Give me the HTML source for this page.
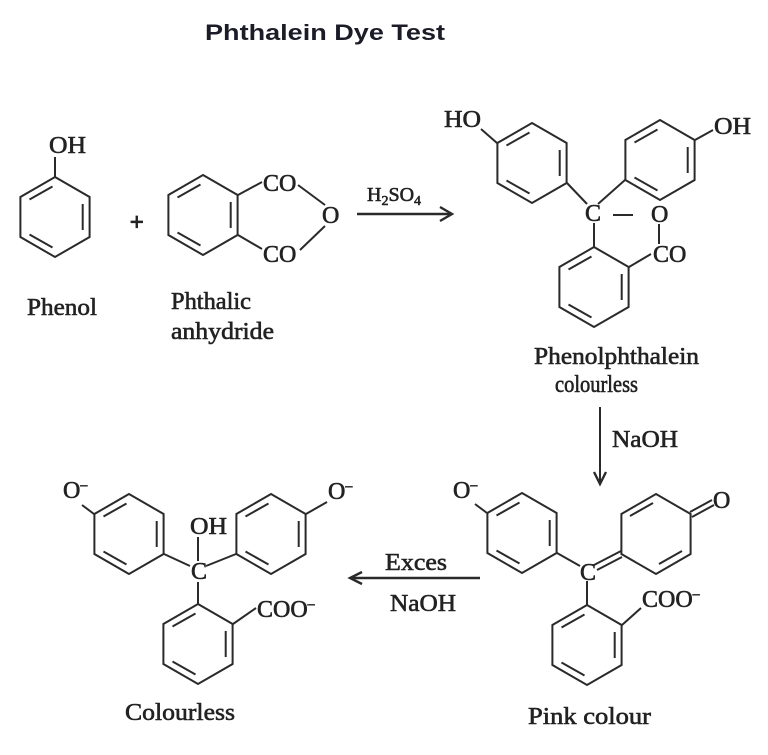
<!DOCTYPE html>
<html><head><meta charset="utf-8"><style>
html,body{margin:0;padding:0;background:#fff;}
svg{display:block;}
.t{font-family:"Liberation Serif",serif;font-size:24px;fill:#222;stroke:#222;stroke-width:0.6;}
.s{font-size:14px;}
</style></head><body>
<svg width="768" height="755" viewBox="0 0 768 755" xmlns="http://www.w3.org/2000/svg">
<defs>
<g id="ring" fill="none" stroke="#2a2a2a" stroke-width="2">
<polygon points="0,-40 34.6,-20 34.6,20 0,40 -34.6,20 -34.6,-20"/>
<line x1="-25.5" y1="-17.5" x2="-2.5" y2="-30.5"/>
<line x1="27.7" y1="-13" x2="27.7" y2="13"/>
<line x1="-2.5" y1="30.5" x2="-25.5" y2="17.5"/>
</g>
</defs>
<text x="205" y="40" font-family="Liberation Sans, sans-serif" font-weight="bold" font-size="22" fill="#1c1c28" textLength="240" lengthAdjust="spacingAndGlyphs">Phthalein Dye Test</text>

<g stroke="#2a2a2a" stroke-width="2" fill="none">
<use href="#ring" x="55" y="217"/>
<use href="#ring" x="203" y="215"/>
<use href="#ring" x="532" y="163"/>
<use href="#ring" x="660" y="160"/>
<use href="#ring" x="594" y="287"/>
<use href="#ring" x="522" y="533"/>
<use href="#ring" x="587" y="645"/>
<use href="#ring" x="129" y="534"/>
<use href="#ring" x="271" y="534"/>
<use href="#ring" x="198" y="644"/>
<polygon points="656,494 690.6,514 690.6,554 656,574 621.4,554 621.4,514"/>
<line x1="630" y1="516" x2="653" y2="503"/>
<line x1="682" y1="551" x2="659" y2="564"/>

<line x1="55" y1="177" x2="55" y2="157"/>
<line x1="238" y1="195" x2="262" y2="182"/>
<line x1="238" y1="235" x2="262" y2="249"/>
<line x1="298" y1="185" x2="325" y2="205"/>
<line x1="325" y1="226" x2="300" y2="250"/>
<line x1="357" y1="214" x2="451" y2="214" stroke-width="2.6"/>
<polyline points="440,207 452,214 440,221" stroke-width="2.4"/>
<line x1="497" y1="143" x2="481" y2="129"/>
<line x1="695" y1="140" x2="713" y2="130"/>
<line x1="567" y1="183" x2="587" y2="204"/>
<line x1="625" y1="180" x2="598" y2="204"/>
<line x1="613" y1="215" x2="633" y2="215"/>
<line x1="659" y1="224" x2="659" y2="244"/>
<line x1="629" y1="267" x2="651" y2="254"/>
<line x1="594" y1="223" x2="594" y2="247"/>
<line x1="600" y1="407" x2="600" y2="483"/>
<polyline points="594,472 600,484 606,472" stroke-width="2.4"/>
<line x1="487" y1="513" x2="475" y2="504"/>
<line x1="557" y1="553" x2="580" y2="566"/>
<line x1="594" y1="565" x2="621" y2="551"/>
<line x1="597" y1="570" x2="622" y2="557"/>
<line x1="587" y1="581" x2="587" y2="605"/>
<line x1="622" y1="625" x2="641" y2="608"/>
<line x1="690" y1="512" x2="712" y2="500"/>
<line x1="692" y1="517" x2="714" y2="505"/>
<line x1="350" y1="578" x2="480" y2="578" stroke-width="2.4"/>
<polyline points="362,572 350,578 362,584" stroke-width="2.4"/>
<line x1="94" y1="514" x2="82" y2="505"/>
<line x1="306" y1="514" x2="327" y2="502"/>
<line x1="164" y1="554" x2="190" y2="566"/>
<line x1="236" y1="554" x2="206" y2="566"/>
<line x1="198" y1="537" x2="198" y2="561"/>
<line x1="198" y1="582" x2="198" y2="604"/>
<line x1="233" y1="624" x2="256" y2="608"/>
</g>

<g class="t">
<text x="49" y="153" textLength="37" lengthAdjust="spacingAndGlyphs">OH</text>
<text x="130" y="230" font-size="24" stroke-width="1.2">+</text>
<text x="263" y="191">CO</text>
<text x="263" y="262">CO</text>
<text x="322" y="223">O</text>
<text x="367" y="201" font-size="20">H<tspan class="s" dy="4">2</tspan><tspan dy="-4">SO</tspan><tspan class="s" dy="4">4</tspan></text>
<text x="27" y="315" textLength="70" lengthAdjust="spacingAndGlyphs">Phenol</text>
<text x="171" y="309" textLength="80" lengthAdjust="spacingAndGlyphs">Phthalic</text>
<text x="171" y="339" textLength="103" lengthAdjust="spacingAndGlyphs">anhydride</text>

<text x="444" y="127" textLength="37" lengthAdjust="spacingAndGlyphs">HO</text>
<text x="714" y="134" textLength="37" lengthAdjust="spacingAndGlyphs">OH</text>
<text x="585" y="221">C</text>
<text x="651" y="222">O</text>
<text x="653" y="262">CO</text>
<text x="534" y="364" textLength="165" lengthAdjust="spacingAndGlyphs">Phenolphthalein</text>
<text x="555" y="392" textLength="83" lengthAdjust="spacingAndGlyphs">colourless</text>
<text x="612" y="447" textLength="66" lengthAdjust="spacingAndGlyphs">NaOH</text>

<text x="453" y="498">O<tspan class="s" dy="-9">–</tspan></text>
<text x="580" y="580">C</text>
<text x="642" y="607">COO<tspan class="s" dy="-9">–</tspan></text>
<text x="713" y="508">O</text>
<text x="385" y="570" textLength="62" lengthAdjust="spacingAndGlyphs">Exces</text>
<text x="390" y="611" textLength="66" lengthAdjust="spacingAndGlyphs">NaOH</text>
<text x="528" y="724" textLength="123" lengthAdjust="spacingAndGlyphs">Pink colour</text>

<text x="63" y="498">O<tspan class="s" dy="-9">–</tspan></text>
<text x="328" y="499">O<tspan class="s" dy="-9">–</tspan></text>
<text x="190" y="534" textLength="37" lengthAdjust="spacingAndGlyphs">OH</text>
<text x="191" y="579">C</text>
<text x="257" y="617">COO<tspan class="s" dy="-9">–</tspan></text>
<text x="125" y="720" textLength="110" lengthAdjust="spacingAndGlyphs">Colourless</text>
</g>
</svg>
</body></html>
